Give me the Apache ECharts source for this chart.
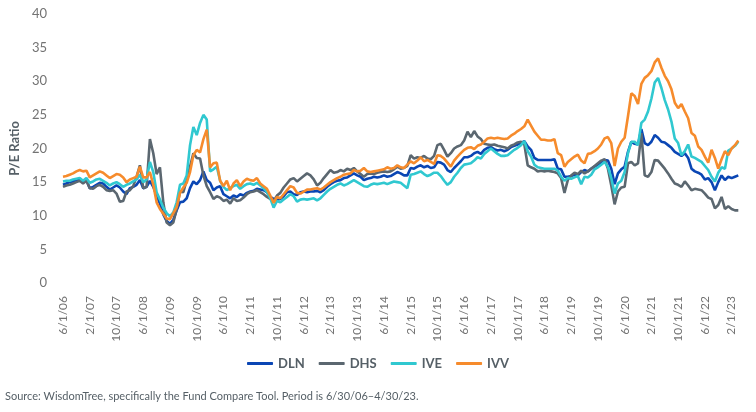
<!DOCTYPE html>
<html>
<head>
<meta charset="utf-8">
<script src="https://cdn.jsdelivr.net/npm/echarts@6/dist/echarts.min.js"></script>
<style>
  html, body { margin: 0; padding: 0; background: #fff; }
  #chart { width: 756px; height: 412px; }
</style>
</head>
<body>
<div id="chart"></div>
<script>
// monthly, 6/1/06 .. 4/1/23
const startYear = 2006;
const startMonth = 6;
const monthCount = 203;
const categories = [];
for (let k = 0; k < monthCount; k++) {
  const m = (startMonth - 1 + k) % 12 + 1;
  const y = startYear + Math.floor((startMonth - 1 + k) / 12);
  categories.push(m + "/1/" + String(y % 100).padStart(2, "0"));
}

const dln = [
  14.6, 14.8, 15.0, 15.1, 15.3, 15.4, 15.0, 15.3, 14.1, 14.3, 14.6, 14.9,
  14.8, 14.3, 13.9, 14.2, 14.5, 14.2, 13.6, 13.2, 14.1, 14.3, 14.6, 15.3,
  14.1, 14.3, 15.2, 14.3, 13.0, 11.8, 10.2, 9.2, 8.8, 9.4, 10.8, 12.0,
  12.1, 12.6, 14.1, 15.1, 14.7, 15.3, 16.6, 15.3, 14.9, 13.8, 14.2, 14.4,
  13.2, 12.9, 12.6, 13.0, 12.8, 13.2, 13.0, 13.4, 13.6, 13.7, 14.0, 13.9,
  13.8, 13.5, 12.8, 12.5, 12.4, 12.5, 12.9, 13.5, 13.6, 13.2, 13.1, 13.5,
  13.6, 13.5, 13.6, 13.6, 13.7, 13.5, 13.8, 14.3, 14.7, 15.0, 15.2, 15.3,
  15.6, 15.7, 16.0, 16.3, 16.0, 15.8, 15.3, 15.5, 15.6, 15.8, 15.7, 15.8,
  16.0, 15.8, 15.9, 16.2, 16.5, 16.3, 16.0, 16.0, 17.1, 17.0, 17.3, 17.5,
  17.2, 17.4, 17.1, 17.2, 18.0, 17.9, 17.6, 16.8, 16.5, 17.1, 17.6, 18.1,
  18.7, 18.7, 18.9, 19.3, 19.5, 19.2, 19.8, 20.1, 20.2, 19.9, 19.7, 19.8,
  19.6, 19.8, 20.2, 20.4, 20.6, 20.8, 21.1, 20.3, 19.8, 18.6, 18.3, 18.3,
  18.3, 18.3, 18.3, 18.4, 17.0, 16.9, 15.8, 15.8, 15.9, 16.1, 16.0, 16.5,
  16.8, 16.6, 17.0, 17.3, 17.6, 18.0, 18.3, 18.2, 17.0, 14.7, 16.3, 16.9,
  17.3, 19.5, 21.0, 20.7, 20.6, 22.9, 20.8, 20.5, 21.0, 22.0, 21.6, 21.0,
  20.9, 20.5, 20.1, 19.5, 19.2, 18.9, 19.3, 18.6, 17.0, 16.6, 16.4, 16.1,
  15.4, 15.6, 15.0, 13.8, 15.0, 16.0, 15.3, 15.8, 15.6, 15.8, 16.0
];
const dhs = [
  14.3, 14.5, 14.6, 14.8, 15.0, 15.2, 14.8, 15.2, 14.1, 14.0, 14.4, 14.6,
  14.3, 13.8, 13.7, 13.8, 13.3, 12.1, 12.2, 13.6, 13.8, 14.4, 15.8, 17.5,
  14.1, 14.3, 21.4, 19.3, 16.2, 17.2, 12.0, 9.0, 8.6, 9.0, 11.0, 13.6,
  13.5, 15.3, 17.3, 19.3, 18.6, 18.5, 16.0, 14.4, 13.5, 12.5, 12.9, 12.7,
  12.2, 12.4, 11.8, 12.6, 12.2, 12.3, 12.7, 13.2, 13.5, 13.6, 13.8, 13.5,
  13.2, 12.8, 12.5, 12.2, 13.0, 13.4, 14.2, 14.8, 15.4, 15.6, 15.1, 15.5,
  15.9, 16.3, 16.0, 15.4, 14.5, 14.9, 15.6, 16.2, 16.8, 16.4, 16.5, 16.8,
  16.6, 17.0, 16.8, 17.1, 16.6, 16.2, 15.8, 16.2, 16.3, 16.2, 16.4, 16.5,
  16.6, 16.5, 16.6, 16.9, 17.3, 17.0, 17.1, 17.4, 19.0, 18.5, 18.7, 18.6,
  18.9, 18.5, 18.4, 18.9, 20.5, 20.7, 19.8, 18.8, 19.3, 20.0, 20.3, 20.5,
  21.2, 22.5, 21.7, 22.6, 21.8, 21.4, 20.7, 20.6, 20.5, 20.6, 20.4, 20.3,
  20.2, 20.0, 20.4, 20.6, 20.9, 21.0, 20.6, 17.5, 17.2, 17.0, 16.6, 16.7,
  16.6, 16.7, 16.6, 16.5, 16.3, 15.6, 13.4, 15.3, 16.0, 16.4, 16.2, 16.7,
  16.3, 16.6, 17.0, 17.4, 17.8, 18.2, 18.4, 17.0, 14.5, 11.7, 13.6, 14.2,
  14.3, 17.8, 18.0, 17.5, 17.8, 22.3, 16.0, 15.8, 16.5, 18.3, 18.2, 17.6,
  17.0, 16.3, 15.5, 14.8, 14.6, 14.3, 15.1, 14.5, 13.8, 14.0, 13.9, 13.8,
  13.3, 12.7, 12.5, 11.1, 11.6, 12.8, 11.0, 11.4, 11.0, 10.8, 10.8
];
const ive = [
  15.1, 15.2, 15.2, 15.4, 15.5, 15.6, 15.2, 15.6, 14.9, 15.1, 15.4, 15.5,
  15.2, 14.9, 14.5, 14.8, 15.0, 14.7, 14.3, 14.6, 14.8, 15.1, 15.4, 16.1,
  15.0, 15.4, 18.0, 16.5, 13.5, 12.4, 11.2, 10.4, 9.9, 10.5, 12.0, 14.6,
  14.8, 16.0, 20.5, 23.2, 22.0, 23.8, 25.0, 24.3, 16.6, 16.9, 17.3, 15.2,
  14.3, 13.8, 14.1, 14.4, 14.6, 14.0, 14.4, 14.7, 14.8, 14.6, 14.9, 14.5,
  14.1, 13.5, 12.6, 11.2, 12.2, 12.0, 12.4, 12.8, 13.2, 12.9, 12.1, 12.4,
  12.5, 12.4, 12.5, 12.6, 12.3, 12.6, 13.1, 13.6, 14.0, 14.3, 14.6, 14.8,
  14.5, 14.7, 15.0, 15.3, 15.0, 14.7, 14.4, 14.3, 14.6, 14.8, 14.7, 14.8,
  14.9, 14.7, 14.9, 15.1, 15.0, 14.9, 14.5, 14.1, 16.1, 16.2, 16.4, 16.6,
  16.2, 15.9, 16.1, 16.4, 16.4, 15.9, 15.2, 14.6, 15.0, 15.8, 16.4, 17.1,
  17.6, 17.7, 17.8, 18.2, 18.7, 18.5, 19.2, 19.6, 20.0, 19.6, 19.2, 18.9,
  18.9, 19.0, 19.4, 19.8, 20.1, 20.5, 21.1, 19.6, 18.8, 17.6, 17.2, 17.1,
  17.0, 17.0, 17.0, 17.0, 16.7, 15.8, 15.2, 15.6, 15.5, 15.7, 15.9, 14.7,
  15.8, 15.7, 16.1, 16.9, 17.2, 17.6, 18.0, 17.3, 15.6, 13.3, 14.8, 15.2,
  16.5, 19.3, 21.0, 21.0, 20.5, 23.8, 24.3, 25.5, 27.4, 29.8, 30.5, 29.0,
  27.2, 25.8, 24.0, 21.5, 20.8, 19.0, 19.6, 20.6, 18.8, 18.6, 18.3, 18.0,
  17.4, 16.8, 15.8, 15.1, 16.4, 17.2, 17.0, 19.7, 20.0, 20.4, 21.0
];
const ivv = [
  15.8, 15.9, 16.1, 16.3, 16.6, 16.8, 16.6, 16.7, 15.7, 16.0, 16.3, 16.6,
  16.4, 16.0, 15.6, 15.9, 16.2, 16.1, 15.7, 15.0, 15.4, 15.6, 15.8, 17.3,
  15.7, 15.7, 16.5, 14.6, 12.0, 11.0, 10.3, 9.6, 9.5, 10.4, 11.3, 13.4,
  14.2, 14.9, 16.5, 19.0, 19.8, 19.4, 21.4, 22.8, 17.2, 17.8, 17.9, 15.2,
  14.4, 15.2, 13.8, 14.8, 15.3, 14.4, 15.1, 15.5, 15.3, 15.2, 15.6, 14.8,
  14.4, 14.0, 13.0, 11.9, 12.8, 12.6, 13.2, 13.8, 14.4, 14.2, 13.4, 13.3,
  13.6, 13.9, 13.9, 14.0, 14.1, 13.9, 14.2, 14.6, 15.0, 15.3, 15.6, 15.8,
  16.1, 16.2, 16.3, 16.8, 16.6, 16.7, 17.1, 16.6, 16.5, 16.6, 16.7, 16.8,
  16.9, 17.2, 17.0, 17.1, 17.5, 17.2, 17.1, 17.6, 18.1, 17.8, 18.2, 18.7,
  18.1, 18.3, 18.0, 17.7, 19.0, 18.9, 18.5, 17.9, 17.3, 18.2, 18.8, 19.3,
  19.8, 20.1, 20.2, 19.9, 20.4, 20.6, 21.0, 21.5, 21.6, 21.5, 21.6, 21.5,
  21.4, 21.5, 21.9, 22.2, 22.6, 22.9, 23.3, 24.3, 23.4, 22.5, 21.9, 21.3,
  21.3, 21.2, 21.2, 21.4, 19.3, 19.0, 17.3, 18.0, 18.4, 18.8, 19.1, 18.2,
  17.8, 19.2, 19.3, 19.6, 20.0, 20.6, 21.5, 21.7, 20.8, 17.4, 20.0, 21.0,
  21.6, 24.8, 28.2, 27.8, 26.6, 29.6, 30.5, 30.9, 31.5, 32.8, 33.4, 32.0,
  30.8, 30.0, 28.8, 26.8, 26.0, 26.6, 25.5, 24.5, 22.3, 21.9, 20.3, 19.8,
  18.8, 17.9, 19.8, 18.6, 17.0, 18.4, 19.6, 19.0, 20.0, 20.5, 21.2
];

const seriesNames = ["DLN", "DHS", "IVE", "IVV"];
const seriesColors = ["#0a46b4", "#5b6770", "#30c8d0", "#f68b2c"];
const seriesData = [dln, dhs, ive, ivv];
const sourceNote = "Source: WisdomTree, specifically the Fund Compare Tool. Period is 6/30/06\u20134/30/23.";

const font = "Lato, 'Open Sans', sans-serif";
const chart = echarts.init(document.getElementById("chart"), null, { renderer: "canvas" });

chart.setOption({
  animation: false,
  backgroundColor: "#ffffff",
  textStyle: { fontFamily: font },
  grid: { left: 58.5, right: 17.7, top: 14, bottom: 129, containLabel: false },
  legend: {
    data: seriesNames,
    bottom: 37,
    left: "center",
    icon: "roundRect",
    itemWidth: 26,
    itemHeight: 3,
    itemGap: 14,
    textStyle: { color: "#555f66", fontSize: 13, fontWeight: "bold", fontFamily: font }
  },
  xAxis: {
    type: "category",
    data: categories,
    boundaryGap: false,
    axisLine: { show: false },
    axisTick: { show: false },
    axisLabel: {
      interval: 7,
      rotate: 90,
      margin: 13,
      color: "#737373",
      fontSize: 12,
      fontFamily: font
    },
    splitLine: { show: false }
  },
  yAxis: {
    type: "value",
    min: 0,
    max: 40,
    interval: 5,
    name: "P/E Ratio",
    nameLocation: "middle",
    nameGap: 42,
    nameTextStyle: { color: "#555f66", fontSize: 13, fontWeight: "bold", fontFamily: font },
    axisLine: { show: false },
    axisTick: { show: false },
    axisLabel: { margin: 16, color: "#737373", fontSize: 13, fontFamily: font },
    splitLine: { show: false }
  },
  series: seriesNames.map((name, k) => ({
    name: name,
    type: "line",
    data: seriesData[k],
    showSymbol: false,
    symbol: "none",
    color: seriesColors[k],
    lineStyle: { width: 2.6, color: seriesColors[k] },
    itemStyle: { color: seriesColors[k] }
  })),
  graphic: [{
    type: "text",
    left: 5,
    top: 391,
    style: { text: sourceNote, fill: "#555f66", fontSize: 11, fontFamily: font }
  }]
});
</script>
</body>
</html>
